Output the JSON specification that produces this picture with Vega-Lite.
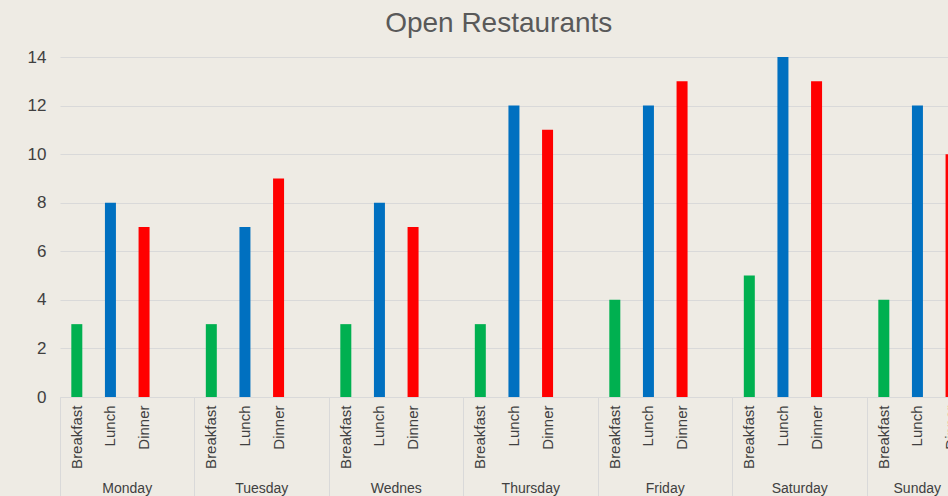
{
  "$schema": "https://vega.github.io/schema/vega-lite/v6.json",
  "autosize": {"type": "none"},
  "padding": {"left": 60, "top": 57, "right": 0, "bottom": 99},
  "width": 941.5,
  "height": 340,
  "background": "#EEEBE4",
  "config": {
    "view": {"stroke": null},
    "font": "Liberation Sans"
  },
  "title": {
    "text": "Open Restaurants",
    "fontSize": 28,
    "fontWeight": "normal",
    "color": "#595959",
    "frame": "group",
    "anchor": "middle",
    "baseline": "alphabetic",
    "offset": 27,
    "dy": 39,
    "dx": -32
  },
  "data": {
    "values": [
      {"day": "Monday", "key": "Monday|Breakfast", "meal": "Breakfast", "value": 3},
      {"day": "Monday", "key": "Monday|Lunch", "meal": "Lunch", "value": 8},
      {"day": "Monday", "key": "Monday|Dinner", "meal": "Dinner", "value": 7},
      {"day": "Tuesday", "key": "Tuesday|Breakfast", "meal": "Breakfast", "value": 3},
      {"day": "Tuesday", "key": "Tuesday|Lunch", "meal": "Lunch", "value": 7},
      {"day": "Tuesday", "key": "Tuesday|Dinner", "meal": "Dinner", "value": 9},
      {"day": "Wednes", "key": "Wednes|Breakfast", "meal": "Breakfast", "value": 3},
      {"day": "Wednes", "key": "Wednes|Lunch", "meal": "Lunch", "value": 8},
      {"day": "Wednes", "key": "Wednes|Dinner", "meal": "Dinner", "value": 7},
      {"day": "Thursday", "key": "Thursday|Breakfast", "meal": "Breakfast", "value": 3},
      {"day": "Thursday", "key": "Thursday|Lunch", "meal": "Lunch", "value": 12},
      {"day": "Thursday", "key": "Thursday|Dinner", "meal": "Dinner", "value": 11},
      {"day": "Friday", "key": "Friday|Breakfast", "meal": "Breakfast", "value": 4},
      {"day": "Friday", "key": "Friday|Lunch", "meal": "Lunch", "value": 12},
      {"day": "Friday", "key": "Friday|Dinner", "meal": "Dinner", "value": 13},
      {"day": "Saturday", "key": "Saturday|Breakfast", "meal": "Breakfast", "value": 5},
      {"day": "Saturday", "key": "Saturday|Lunch", "meal": "Lunch", "value": 14},
      {"day": "Saturday", "key": "Saturday|Dinner", "meal": "Dinner", "value": 13},
      {"day": "Sunday", "key": "Sunday|Breakfast", "meal": "Breakfast", "value": 4},
      {"day": "Sunday", "key": "Sunday|Lunch", "meal": "Lunch", "value": 12},
      {"day": "Sunday", "key": "Sunday|Dinner", "meal": "Dinner", "value": 10}
    ]
  },
  "layer": [
    {
      "mark": {"type": "bar", "width": 11},
      "encoding": {
        "x": {
          "field": "key",
          "type": "nominal",
          "scale": {
            "domain": [
              "Monday|Breakfast", "Monday|Lunch", "Monday|Dinner", "Monday|",
              "Tuesday|Breakfast", "Tuesday|Lunch", "Tuesday|Dinner", "Tuesday|",
              "Wednes|Breakfast", "Wednes|Lunch", "Wednes|Dinner", "Wednes|",
              "Thursday|Breakfast", "Thursday|Lunch", "Thursday|Dinner", "Thursday|",
              "Friday|Breakfast", "Friday|Lunch", "Friday|Dinner", "Friday|",
              "Saturday|Breakfast", "Saturday|Lunch", "Saturday|Dinner", "Saturday|",
              "Sunday|Breakfast", "Sunday|Lunch", "Sunday|Dinner", "Sunday|"
            ],
            "paddingInner": 0,
            "paddingOuter": 0
          },
          "axis": {
            "orient": "bottom",
            "title": null,
            "labelExpr": "split(datum.value, '|')[1]",
            "labelAngle": 270,
            "labelAlign": "right",
            "labelBaseline": "middle",
            "labelPadding": 8,
            "labelFontSize": 15,
            "labelColor": "#404040",
            "ticks": false,
            "domainColor": "#D9D9D9",
            "domainWidth": 1,
            "grid": false
          }
        },
        "y": {
          "field": "value",
          "type": "quantitative",
          "scale": {"domain": [0, 14], "nice": false},
          "axis": {
            "title": null,
            "values": [0, 2, 4, 6, 8, 10, 12, 14],
            "domain": false,
            "ticks": false,
            "labelPadding": 14,
            "labelFontSize": 17,
            "labelColor": "#404040",
            "gridColor": "#D9D9D9",
            "gridWidth": 1
          }
        },
        "color": {
          "field": "meal",
          "type": "nominal",
          "scale": {"domain": ["Breakfast", "Lunch", "Dinner"], "range": ["#00B050", "#0070C0", "#FF0000"]},
          "legend": null
        }
      }
    },
    {
      "mark": {"type": "tick", "opacity": 0},
      "encoding": {
        "x": {
          "field": "day",
          "type": "nominal",
          "scale": {
            "domain": ["Monday", "Tuesday", "Wednes", "Thursday", "Friday", "Saturday", "Sunday"],
            "paddingInner": 0,
            "paddingOuter": 0
          },
          "axis": {
            "orient": "bottom",
            "title": null,
            "labelAngle": 0,
            "labelFontSize": 14,
            "labelColor": "#404040",
            "labelBaseline": "top",
            "labelOffset": {"condition": {"test": "datum.value === 'Sunday'", "value": -17}, "value": 0},
            "ticks": true,
            "bandPosition": 0,
            "tickSize": 110,
            "tickColor": "#D9D9D9",
            "tickWidth": 1,
            "labelPadding": -26,
            "domain": false,
            "grid": false
          }
        }
      }
    }
  ],
  "resolve": {"scale": {"x": "independent"}}
}
